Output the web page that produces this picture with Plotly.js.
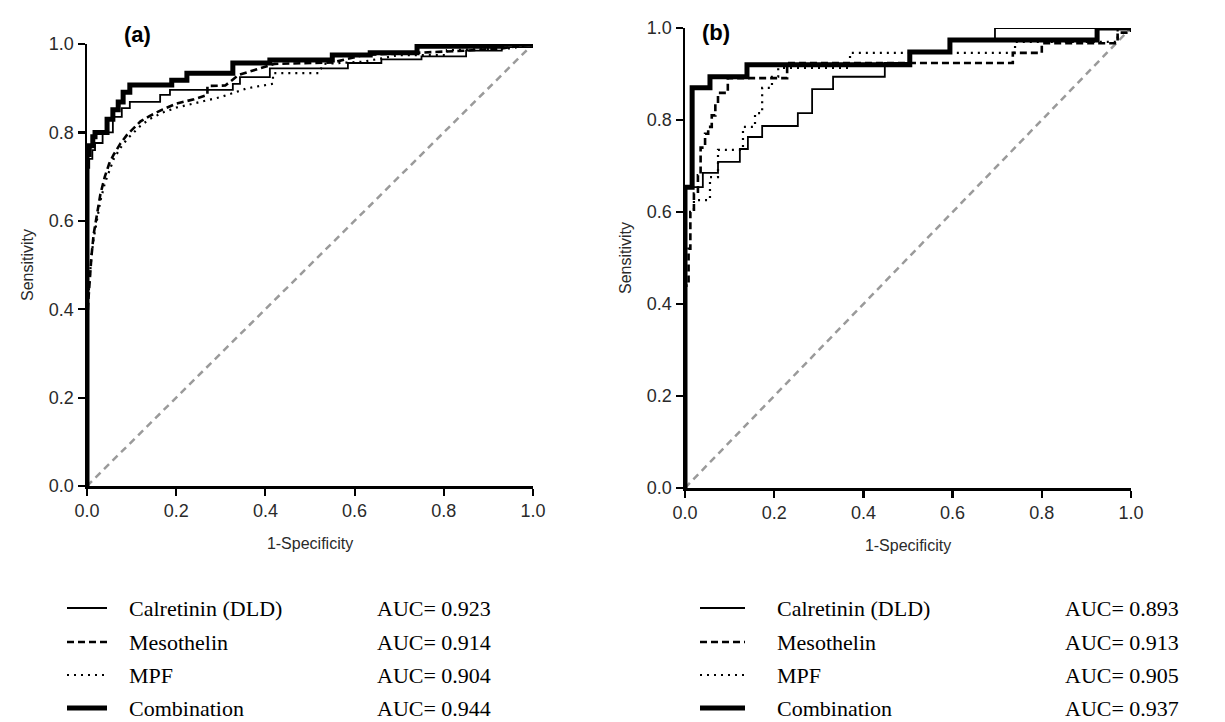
<!DOCTYPE html>
<html>
<head>
<meta charset="utf-8">
<script src="https://cdn.plot.ly/plotly-3.0.1.min.js"></script>
<style>html,body{margin:0;padding:0;background:#fff}#chart{width:1225px;height:722px}</style>
</head>
<body>
<div id="chart"></div>
<script>
// ---------- DATA ----------
const seriesNames = ["Calretinin (DLD)", "Mesothelin", "MPF", "Combination"];
const aucA = ["0.923", "0.914", "0.904", "0.944"];
const aucB = ["0.893", "0.913", "0.905", "0.937"];
const tickVals = [0, 0.2, 0.4, 0.6, 0.8, 1.0];
const tickText = ["0.0", "0.2", "0.4", "0.6", "0.8", "1.0"];
const chanceX = [0, 1];
const chanceY = [0, 1];

// Panel (a)
const aCalX = [0, 0, 0.005, 0.012, 0.018, 0.035, 0.058, 0.078, 0.096, 0.164, 0.186, 0.327, 0.343, 0.41, 0.585, 0.66, 0.75, 0.85, 0.93, 1.0];
const aCalY = [0, 0.72, 0.74, 0.76, 0.776, 0.80, 0.835, 0.855, 0.869, 0.885, 0.896, 0.91, 0.925, 0.945, 0.957, 0.965, 0.972, 0.985, 0.993, 1.0];
const aMesX = [0, 0, 0.003, 0.006, 0.01, 0.015, 0.022, 0.03, 0.04, 0.05, 0.06, 0.075, 0.09, 0.105, 0.12, 0.14, 0.17, 0.2, 0.24, 0.27, 0.27, 0.31, 0.34, 0.42, 0.55, 0.62, 0.75, 0.85, 0.93, 1.0];
const aMesY = [0, 0.35, 0.42, 0.47, 0.52, 0.57, 0.61, 0.66, 0.70, 0.73, 0.75, 0.775, 0.795, 0.81, 0.825, 0.837, 0.852, 0.865, 0.875, 0.885, 0.905, 0.906, 0.93, 0.955, 0.958, 0.975, 0.98, 0.985, 0.99, 1.0];
const aMpfX = [0, 0, 0.003, 0.006, 0.01, 0.015, 0.022, 0.03, 0.04, 0.05, 0.06, 0.075, 0.09, 0.105, 0.12, 0.14, 0.17, 0.2, 0.24, 0.3, 0.36, 0.417, 0.417, 0.52, 0.53, 0.62, 0.7, 0.807, 0.807, 0.9, 0.95, 1.0];
const aMpfY = [0, 0.37, 0.43, 0.48, 0.52, 0.56, 0.60, 0.645, 0.685, 0.715, 0.74, 0.765, 0.785, 0.80, 0.815, 0.83, 0.845, 0.856, 0.865, 0.88, 0.90, 0.91, 0.934, 0.934, 0.955, 0.96, 0.975, 0.975, 0.986, 0.988, 0.99, 1.0];
const aComX = [0, 0, 0.005, 0.013, 0.018, 0.04, 0.045, 0.058, 0.07, 0.081, 0.096, 0.19, 0.224, 0.327, 0.41, 0.55, 0.635, 0.74, 0.93, 1.0];
const aComY = [0, 0.75, 0.77, 0.79, 0.80, 0.80, 0.83, 0.851, 0.869, 0.891, 0.907, 0.918, 0.934, 0.957, 0.964, 0.975, 0.98, 0.995, 1.0, 1.0];

// Panel (b)
const bCalX = [0, 0, 0.027, 0.04, 0.074, 0.123, 0.141, 0.173, 0.253, 0.285, 0.332, 0.448, 0.504, 0.594, 0.695, 1.0];
const bCalY = [0, 0.654, 0.654, 0.685, 0.709, 0.737, 0.763, 0.787, 0.815, 0.867, 0.894, 0.924, 0.947, 0.974, 1.0, 1.0];
const bMesX = [0, 0, 0.008, 0.012, 0.02, 0.029, 0.035, 0.045, 0.052, 0.06, 0.068, 0.074, 0.096, 0.096, 0.229, 0.229, 0.5, 0.735, 0.8, 0.95, 0.97, 1.0];
const bMesY = [0, 0.44, 0.52, 0.60, 0.64, 0.68, 0.74, 0.77, 0.785, 0.81, 0.835, 0.859, 0.87, 0.891, 0.891, 0.924, 0.924, 0.946, 0.967, 0.967, 0.99, 1.0];
const bMpfX = [0, 0, 0, 0.02, 0.056, 0.074, 0.13, 0.157, 0.173, 0.195, 0.209, 0.37, 0.74, 0.97, 1.0];
const bMpfY = [0, 0.27, 0.60, 0.626, 0.676, 0.735, 0.785, 0.815, 0.87, 0.894, 0.913, 0.946, 0.97, 1.0, 1.0];
const bComX = [0, 0, 0.016, 0.056, 0.139, 0.504, 0.594, 0.924, 1.0];
const bComY = [0, 0.654, 0.87, 0.894, 0.92, 0.948, 0.974, 1.0, 1.0];

// ---------- STYLE ----------
const W = 1225, H = 722;
const px = v => v / W;
const py = v => 1 - v / H;

const styles = [
  {color: "#000", width: 1.8, dash: "solid"},
  {color: "#000", width: 2.6, dash: "7px,4px"},
  {color: "#000", width: 2.2, dash: "2px,5px"},
  {color: "#000", width: 5, dash: "solid"}
];
const shapesKind = ["hv", "linear", "linear", "hv"];
const shapesKindB = ["hv", "hv", "hv", "hv"];

const dataA = [[aCalX, aCalY], [aMesX, aMesY], [aMpfX, aMpfY], [aComX, aComY]];
const dataB = [[bCalX, bCalY], [bMesX, bMesY], [bMpfX, bMpfY], [bComX, bComY]];

const traces = [];
traces.push({x: chanceX, y: chanceY, xaxis: "x", yaxis: "y", mode: "lines", line: {color: "#9a9a9a", width: 2.5, dash: "7px,5px"}, showlegend: false, hoverinfo: "skip"});
traces.push({x: chanceX, y: chanceY, xaxis: "x2", yaxis: "y2", mode: "lines", line: {color: "#9a9a9a", width: 2.5, dash: "7px,5px"}, showlegend: false, hoverinfo: "skip"});
dataA.forEach((d, i) => traces.push({x: d[0], y: d[1], xaxis: "x", yaxis: "y", mode: "lines", name: seriesNames[i], line: Object.assign({shape: shapesKind[i]}, styles[i]), showlegend: false}));
dataB.forEach((d, i) => traces.push({x: d[0], y: d[1], xaxis: "x2", yaxis: "y2", mode: "lines", name: seriesNames[i], line: Object.assign({shape: shapesKindB[i]}, styles[i]), showlegend: false}));

const tickFont = {family: "Liberation Sans, Arial, sans-serif", size: 18, color: "#2a2a2a"};
const titleFont = {family: "Liberation Sans, Arial, sans-serif", size: 16, color: "#2a2a2a"};

function axis(domain, anchor, title, isY) {
  return {
    domain: domain, anchor: anchor, range: [0, 1], fixedrange: true,
    tickmode: "array", tickvals: tickVals, ticktext: tickText,
    ticks: "outside", ticklen: 7, tickwidth: 2.2, tickcolor: "#000",
    showline: true, linecolor: "#000", linewidth: 2.5,
    showgrid: false, zeroline: false, automargin: false,
    tickfont: tickFont,
    title: {text: title, font: titleFont, standoff: isY ? 12 : 18}
  };
}

const layout = {
  width: W, height: H,
  margin: {l: 0, r: 0, t: 0, b: 0},
  paper_bgcolor: "#fff", plot_bgcolor: "#fff",
  showlegend: false,
  xaxis: axis([px(87), px(533)], "y", "1-Specificity", false),
  yaxis: axis([py(486), py(44)], "x", "Sensitivity", true),
  xaxis2: axis([px(685), px(1131)], "y2", "1-Specificity", false),
  yaxis2: axis([py(488), py(28)], "x2", "Sensitivity", true),
  shapes: [], annotations: []
};

layout.annotations.push({text: "<b>(a)</b>", xref: "paper", yref: "paper", x: px(122), y: py(20), showarrow: false, font: {family: "Liberation Sans, Arial, sans-serif", size: 22, color: "#000"}});
layout.annotations.push({text: "<b>(b)</b>", xref: "paper", yref: "paper", x: px(716), y: py(18), showarrow: false, font: {family: "Liberation Sans, Arial, sans-serif", size: 22, color: "#000"}});

const legendRows = [608, 642, 675, 708];
const legendFont = {family: "Liberation Serif, Times New Roman, serif", size: 22, color: "#000"};
function addLegend(lineX0, lineX1, textX, aucX, aucs) {
  seriesNames.forEach((n, i) => {
    const yy = legendRows[i];
    layout.shapes.push({type: "line", xref: "paper", yref: "paper", x0: px(lineX0), x1: px(lineX1), y0: py(yy), y1: py(yy), line: {color: "#000", width: styles[i].width, dash: styles[i].dash}});
    layout.annotations.push({text: n, xref: "paper", yref: "paper", x: px(textX), y: py(yy), xanchor: "left", yanchor: "middle", showarrow: false, font: legendFont});
    layout.annotations.push({text: "AUC= " + aucs[i], xref: "paper", yref: "paper", x: px(aucX), y: py(yy), xanchor: "left", yanchor: "middle", showarrow: false, font: legendFont});
  });
}
addLegend(67, 107, 127, 375, aucA);
addLegend(700, 745, 775, 1063, aucB);

Plotly.newPlot("chart", traces, layout, {staticPlot: true});
</script>
</body>
</html>
